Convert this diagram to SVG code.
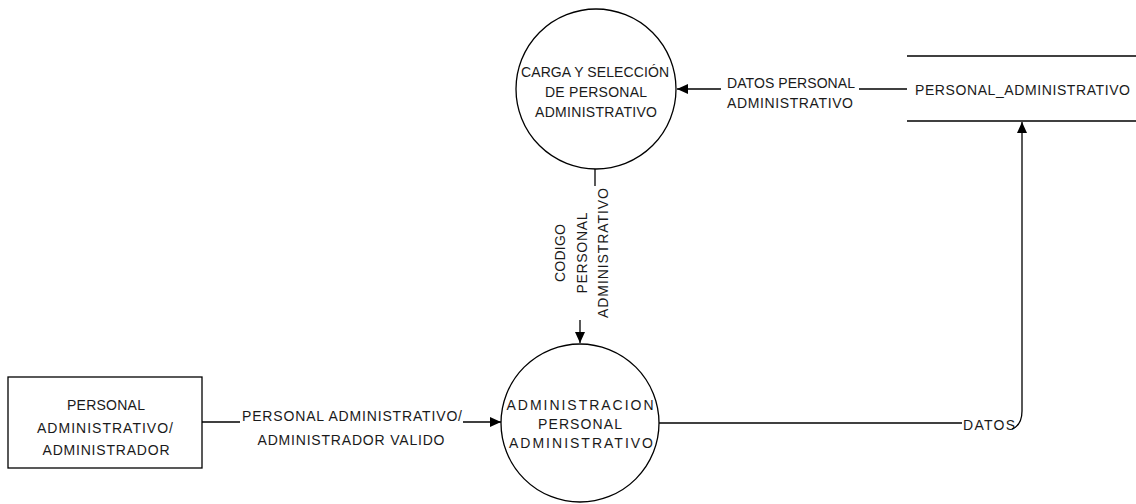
<svg xmlns="http://www.w3.org/2000/svg" width="1136" height="504" viewBox="0 0 1136 504">
<style>
.shape{fill:#fff;stroke:#000;stroke-width:1.3}
.ln{fill:none;stroke:#000;stroke-width:1.3}
text{font-family:"Liberation Sans",Arial,sans-serif;font-size:14px;fill:#1a1a1a}
.c{text-anchor:middle}
</style>
<defs>
<marker id="arr" markerUnits="userSpaceOnUse" markerWidth="12" markerHeight="10" refX="11" refY="5" orient="auto">
<path d="M0,0 L11,5 L0,10 Z" fill="#000"/>
</marker>
</defs>
<rect width="1136" height="504" fill="#fff"/>
<g id="connectors">
<line class="ln" x1="907" y1="89" x2="859" y2="89"/>
<line class="ln" x1="721" y1="89" x2="677" y2="89" marker-end="url(#arr)"/>
<text class="c" x="791" y="88" textLength="128">DATOS PERSONAL</text>
<text class="c" x="790" y="108" textLength="126">ADMINISTRATIVO</text>
<line class="ln" x1="595" y1="169" x2="595" y2="186"/>
<line class="ln" x1="580" y1="320" x2="580" y2="343" marker-end="url(#arr)"/>
<text class="c" transform="translate(581,253) rotate(-90)"><tspan x="0" y="-16" textLength="58">CODIGO</tspan><tspan x="0" y="6" textLength="81">PERSONAL</tspan><tspan x="0" y="27" textLength="130">ADMINISTRATIVO</tspan></text>
<line class="ln" x1="202" y1="422" x2="240" y2="422"/>
<line class="ln" x1="463" y1="422" x2="501" y2="422" marker-end="url(#arr)"/>
<text class="c" x="352" y="421" textLength="220">PERSONAL ADMINISTRATIVO/</text>
<text class="c" x="351" y="445" textLength="187">ADMINISTRADOR VALIDO</text>
<line class="ln" x1="659" y1="423" x2="962" y2="423"/>
<text x="963" y="430" textLength="52">DATOS</text>
<path class="ln" d="M1012,429 Q1022,425 1022,411 L1022,122" marker-end="url(#arr)"/>
</g>
<g id="proc-carga">
<circle class="shape" cx="596" cy="89" r="80"/>
<text class="c" x="595" y="77" textLength="148">CARGA Y SELECCIÓN</text>
<text class="c" x="596" y="97" textLength="102">DE PERSONAL</text>
<text class="c" x="596" y="117" textLength="122">ADMINISTRATIVO</text>
</g>
<g id="store-personal">
<line class="ln" x1="907" y1="56" x2="1136" y2="56"/>
<line class="ln" x1="907" y1="121" x2="1136" y2="121"/>
<text x="915" y="95" textLength="215">PERSONAL_ADMINISTRATIVO</text>
</g>
<g id="proc-admin">
<circle class="shape" cx="580" cy="423" r="79"/>
<text class="c" x="580" y="410" textLength="147">ADMINISTRACION</text>
<text class="c" x="580" y="429" textLength="84">PERSONAL</text>
<text class="c" x="581" y="448" textLength="144">ADMINISTRATIVO</text>
</g>
<g id="ext-admin">
<rect class="shape" x="8" y="377" width="194" height="91"/>
<text class="c" x="106" y="410" textLength="78">PERSONAL</text>
<text class="c" x="105" y="433" textLength="136">ADMINISTRATIVO/</text>
<text class="c" x="106" y="455" textLength="127">ADMINISTRADOR</text>
</g>
</svg>
